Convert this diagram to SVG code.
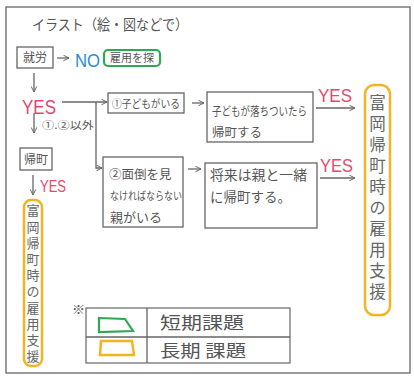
<svg xmlns="http://www.w3.org/2000/svg" width="414" height="376" viewBox="0 0 414 376">
<defs>
<marker id="ah" viewBox="0 0 10 10" refX="9" refY="5" markerWidth="7" markerHeight="7" orient="auto" markerUnits="userSpaceOnUse">
<path d="M1,1 L9,5 L1,9" fill="none" stroke="#666" stroke-width="1.4"/>
</marker>
</defs>
<style>
.jp{font-family:"Noto Sans CJK JP","Noto Sans",sans-serif;fill:#555}
.box{fill:#fff;stroke:#666;stroke-width:1.3}
.ln{fill:none;stroke:#666;stroke-width:1.3}
.yes{font-family:"Liberation Sans",sans-serif;fill:#e8466e}
.yel{fill:#fff;stroke:#f2b422;stroke-width:2.5}
.grn{fill:#fff;stroke:#2fa84f;stroke-width:2.2}
.vt{writing-mode:vertical-rl;text-orientation:upright;fill:#666}
</style>
<rect x="6" y="7" width="404" height="366" fill="#fff" stroke="#666" stroke-width="1.3"/>
<text class="jp" x="32" y="30" font-size="14.5" textLength="156" lengthAdjust="spacingAndGlyphs">イラスト（絵・図などで）</text>

<g id="connectors">
<path class="ln" d="M57,58 H69" marker-end="url(#ah)"/>
<path class="ln" d="M34,73 V92" marker-end="url(#ah)"/>
<path class="ln" d="M62,102 H107" marker-end="url(#ah)"/>
<path class="ln" d="M96,102 V168 H102" marker-end="url(#ah)"/>
<path class="ln" d="M34,113 V133" marker-end="url(#ah)"/>
<path class="ln" d="M33,175 V195" marker-end="url(#ah)"/>
<path class="ln" d="M192,103 H204" marker-end="url(#ah)"/>
<path class="ln" d="M188,169 H201" marker-end="url(#ah)"/>
<path class="ln" d="M316,108 H355" marker-end="url(#ah)"/>
<path class="ln" d="M320,178 H355" marker-end="url(#ah)"/>
<text class="jp" x="42" y="129" font-size="10.5" textLength="52" lengthAdjust="spacingAndGlyphs">①.②以外</text>
<text class="yes" x="318" y="102" font-size="19" textLength="34" lengthAdjust="spacingAndGlyphs">YES</text>
<text class="yes" x="320" y="172" font-size="19" textLength="33" lengthAdjust="spacingAndGlyphs">YES</text>
<text class="yes" x="40" y="192" font-size="17" textLength="26" lengthAdjust="spacingAndGlyphs">YES</text>
</g>

<g id="n-shuro">
<rect class="box" x="17" y="47" width="36" height="21"/>
<text class="jp" x="35" y="62" font-size="12" text-anchor="middle">就労</text>
</g>
<g id="n-no">
<text x="75" y="67" font-family="Liberation Sans, sans-serif" font-size="19" fill="#1e8ee0" textLength="25" lengthAdjust="spacingAndGlyphs">NO</text>
</g>
<g id="n-koyou">
<rect class="grn" x="104" y="50" width="56" height="16" rx="4"/>
<text class="jp" x="132" y="62" font-size="11" text-anchor="middle">雇用を探</text>
</g>
<g id="n-yes">
<text class="yes" x="22" y="114" font-size="21" textLength="34" lengthAdjust="spacingAndGlyphs">YES</text>
</g>
<g id="n-kodomo">
<rect class="box" x="108" y="93" width="76" height="20"/>
<text class="jp" x="112" y="107.5" font-size="11" textLength="68" lengthAdjust="spacingAndGlyphs">①子どもがいる</text>
</g>
<g id="n-oya">
<rect class="box" x="103" y="157" width="80" height="70"/>
<text class="jp" x="109" y="179" font-size="12.5">②面倒を見</text>
<text class="jp" x="110" y="200" font-size="11" textLength="72" lengthAdjust="spacingAndGlyphs">なければならない</text>
<text class="jp" x="110" y="222" font-size="13">親がいる</text>
</g>
<g id="n-kodomo-ki">
<rect class="box" x="207" y="92" width="106" height="50"/>
<text class="jp" x="212" y="116" font-size="12" textLength="95" lengthAdjust="spacingAndGlyphs">子どもが落ちついたら</text>
<text class="jp" x="212" y="137" font-size="12.5">帰町する</text>
</g>
<g id="n-oya-ki">
<rect class="box" x="205" y="163" width="112" height="65"/>
<text class="jp" x="210" y="180" font-size="13.5" textLength="97" lengthAdjust="spacingAndGlyphs">将来は親と一緒</text>
<text class="jp" x="210" y="202" font-size="13.5">に帰町する。</text>
</g>
<g id="n-kicho">
<rect class="box" x="20" y="148" width="32" height="22"/>
<text class="jp" x="36" y="163.5" font-size="12" text-anchor="middle">帰町</text>
</g>
<g id="n-shien-left">
<rect class="yel" x="24" y="200" width="18" height="166" rx="7"/>
<text class="jp vt" x="33" y="204" font-size="13" letter-spacing="3.2">富岡帰町時の雇用支援</text>
</g>
<g id="n-shien-right">
<rect class="yel" x="365" y="85" width="25" height="230" rx="9"/>
<text class="jp vt" x="377.5" y="94" font-size="16.5" letter-spacing="4.6">富岡帰町時の雇用支援</text>
</g>
<g id="legend">
<text class="jp" x="72" y="314" font-size="13">※</text>
<rect x="86" y="308" width="204" height="55" fill="#fff" stroke="#666" stroke-width="1.2"/>
<path class="ln" d="M86,337 H290 M147,308 V363" stroke-width="1.2"/>
<path class="grn" d="M99,318 L125,319 L133,331 L99,332 Z" stroke-width="2"/>
<path class="yel" d="M101,341 L132,341 L134,355 L100,355 Z" stroke-width="2"/>
<text class="jp" x="160" y="329" font-size="17" textLength="84" lengthAdjust="spacingAndGlyphs">短期課題</text>
<text class="jp" x="160" y="357" font-size="17" textLength="86" lengthAdjust="spacingAndGlyphs">長期 課題</text>
</g>
</svg>
